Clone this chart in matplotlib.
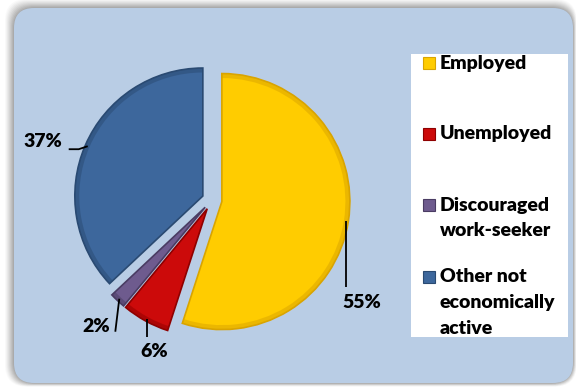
import numpy as np
import matplotlib
matplotlib.use("Agg")
import matplotlib.pyplot as plt
from matplotlib.patches import FancyBboxPatch, Rectangle, Wedge

plt.rcParams['font.family'] = ['Lato', 'DejaVu Sans']

# Labour-market status shares (%)
categories = ["Employed", "Unemployed", "Discouraged\nwork-seeker", "Other not\neconomically\nactive"]
shares = [55, 6, 2, 37]
colors = ["#FFCC00", "#CC0A0A", "#6E5B8E", "#3D679C"]
edge_colors = ["#D9A400", "#8E0000", "#4A3C63", "#2A4A72"]

W, H, DPI = 576, 388, 100
fig = plt.figure(figsize=(W / DPI, H / DPI), dpi=DPI)
fig.patch.set_facecolor("white")

# Full-figure pixel canvas for the panel, shadow and legend
bg = fig.add_axes([0, 0, 1, 1])
bg.set_xlim(0, W)
bg.set_ylim(H, 0)
bg.axis("off")

px0, py0, px1, py1 = 14, 8, 573, 383
for k, a in zip(range(9, 0, -1), [0.03, 0.04, 0.05, 0.06, 0.07, 0.08, 0.09, 0.10, 0.11]):
    bg.add_patch(FancyBboxPatch((px0 - k * 1.0, py0 - k * 1.0),
                                (px1 - px0) + k * 1.4, (py1 - py0) + k * 1.4,
                                boxstyle="round,pad=0,rounding_size=22",
                                fc="#555555", ec="none", alpha=a))
bg.add_patch(FancyBboxPatch((px0, py0), px1 - px0, py1 - py0,
                            boxstyle="round,pad=0,rounding_size=20",
                            fc="#B9CDE5", ec="none"))

# Legend box
bg.add_patch(Rectangle((411, 54), 568 - 411, 337 - 54, fc="white", ec="none"))
legend_rows = [63, 134, 205, 277]
line_gap = 25.5
for lab, col, ecol, y in zip(categories, colors, edge_colors, legend_rows):
    bg.add_patch(Rectangle((423, y - 6), 12, 12, fc=col, ec=ecol, lw=0.8))
    for j, line in enumerate(lab.split("\n")):
        bg.text(440, y + j * line_gap, line, fontsize=14, fontweight="heavy",
                color="black", va="center", ha="left")

# Pie chart axes: centre at (212, 200) px, radius 128 px
cx, cy, R, half = 212, 200, 128, 150
ax = fig.add_axes([(cx - half) / W, (H - cy - half) / H, 2 * half / W, 2 * half / H])
ax.axis("off")
explode = [0.078] * len(shares)
wedges, _ = ax.pie(shares, colors=colors, startangle=90, counterclock=False,
                   explode=explode, radius=1.0)
for w, ec in zip(wedges, edge_colors):
    w.set_edgecolor(ec)
    w.set_linewidth(1.2)
# darker outer rim on each slice
for w, ec in zip(wedges, edge_colors):
    ax.add_patch(Wedge(w.center, w.r, w.theta1, w.theta2,
                       width=0.035, fc=ec, ec="none", alpha=0.5))
lim = half / R
ax.set_xlim(-lim, lim)
ax.set_ylim(-lim, lim)
ax.set_aspect("equal")

# Percentage labels with leader lines (offsets in pixels, y downward)
leaders = [
    dict(path=[(0, 0), (0, 66)], text=(-3, 81), ha="left"),
    dict(path=[(0, 0), (0, 18)], text=(-6, 33), ha="left"),
    dict(path=[(0, 0), (-4, 33)], text=(-9, 28), ha="right"),
    dict(path=[(0, 0), (-9, 3), (-19, 3)], text=(-25, -5), ha="right"),
]
for w, val, ld in zip(wedges, shares, leaders):
    mid = np.deg2rad((w.theta1 + w.theta2) / 2)
    ax_ = w.center[0] + 0.98 * w.r * np.cos(mid)
    ay_ = w.center[1] + 0.98 * w.r * np.sin(mid)
    xs = [ax_ + dx / R for dx, dy in ld["path"]]
    ys = [ay_ - dy / R for dx, dy in ld["path"]]
    ax.plot(xs, ys, color="black", lw=1.3, solid_capstyle="butt")
    tx, ty = ld["text"]
    ax.text(ax_ + tx / R, ay_ - ty / R, f"{val}%", fontsize=14, fontweight="heavy",
            ha=ld["ha"], va="center", color="black")

fig.savefig("out.png", dpi=DPI, facecolor=fig.get_facecolor())
